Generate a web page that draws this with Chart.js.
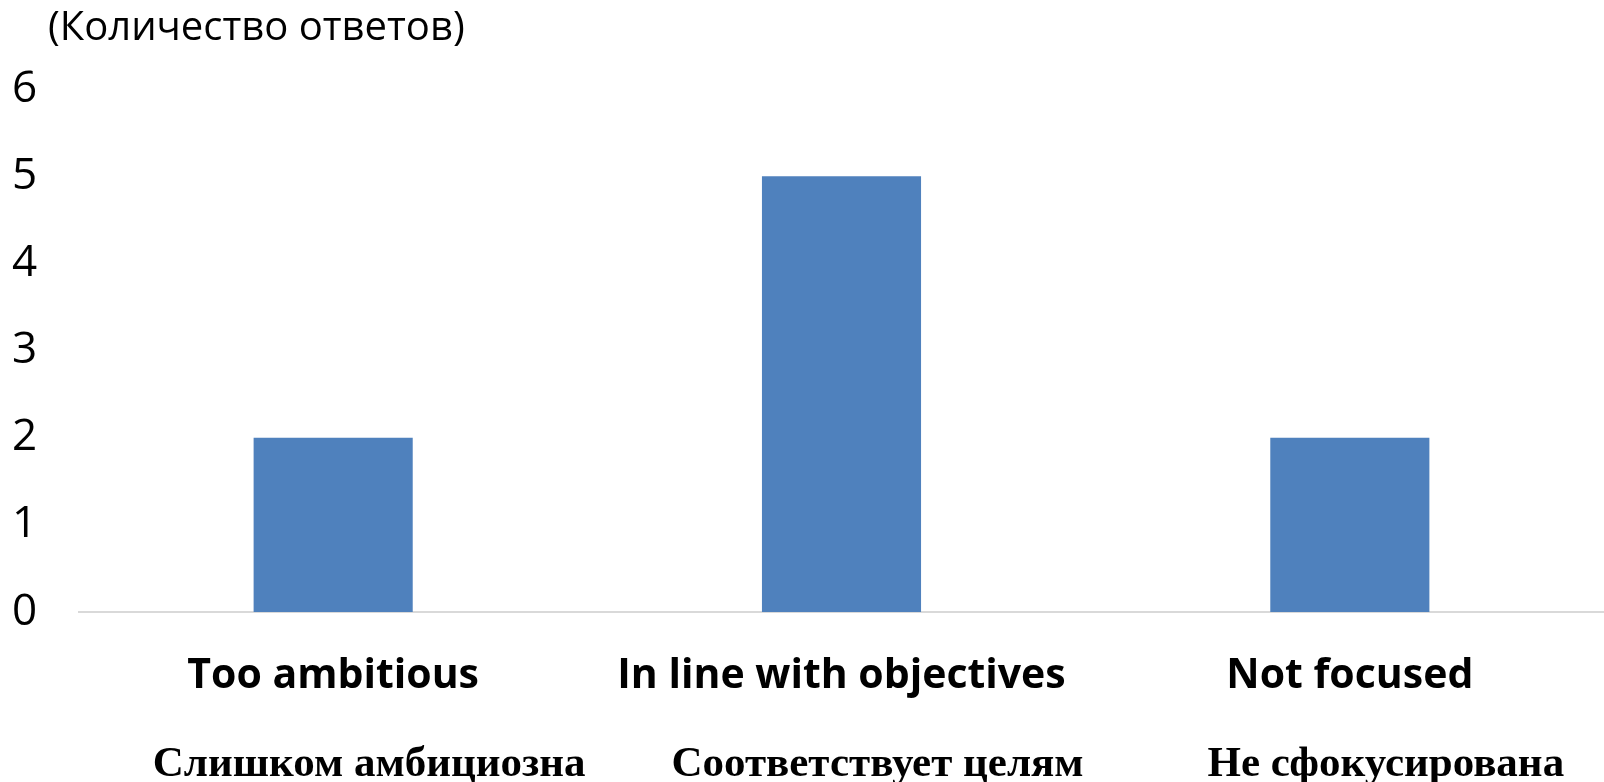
<!DOCTYPE html>
<html>
<head>
<meta charset="utf-8">
<script src="https://cdn.jsdelivr.net/npm/chart.js@4/dist/chart.umd.min.js"></script>
<style>
    html, body { margin: 0; padding: 0; background: #fff; }
    #wrap { width: 1604px; height: 782px; position: relative; }
</style>
</head>
<body>
<div id="wrap"><canvas id="answersChart"></canvas></div>
<script>
// chart data
const categories = ['Too ambitious', 'In line with objectives', 'Not focused'];
const categoriesRu = ['Слишком амбициозна', 'Соответствует целям', 'Не сфокусирована'];
const answers = [2, 5, 2];
const yTicks = [0, 1, 2, 3, 4, 5, 6];
const unitLabel = '(Количество ответов)';

// title sits left of the plot, over the y labels
const unitTitle = {
    id: 'unitTitle',
    afterDraw(chart) {
        let ctx = chart.ctx;
        ctx.save();
        ctx.font = '40px "Open Sans"';
        ctx.fillStyle = '#000';
        ctx.textBaseline = 'middle';
        ctx.textAlign = 'left';
        ctx.fillText(unitLabel, 48, 29);
        ctx.restore();
    }
};

let ctx = document.getElementById('answersChart'),
    myChart = new Chart(ctx, {
        type: 'bar',
        data: {
            labels: categories,
            datasets: [{
                data: answers,
                backgroundColor: '#4F81BD',
                borderWidth: 0,
                categoryPercentage: 1,
                barPercentage: 0.313
            }]
        },
        options: {
            responsive: true,
            maintainAspectRatio: false,
            animation: false,
            layout: { padding: { left: 12, top: 89, right: 0, bottom: 0 } },
            plugins: {
                legend: { display: false },
                tooltip: { enabled: false }
            },
            scales: {
                y: {
                    min: yTicks[0],
                    max: yTicks[yTicks.length - 1],
                    afterBuildTicks: function (axis) {
                        axis.ticks = yTicks.map(function (v) { return { value: v }; });
                    },
                    afterFit: function (axis) { axis.width = 67; },
                    grid: { display: false },
                    border: { display: false },
                    ticks: {
                        crossAlign: 'far',
                        color: '#000',
                        font: { family: '"Open Sans"', size: 44 }
                    }
                },
                x: {
                    position: 'bottom',
                    afterFit: function (axis) { axis.height = 90; },
                    grid: { display: false },
                    border: { display: true, color: '#d9d9d9', width: 2 },
                    ticks: {
                        padding: 32,
                        maxRotation: 0,
                        color: '#000',
                        font: { family: '"Open Sans"', size: 41, weight: 'bold' }
                    }
                },
                x2: {
                    type: 'category',
                    position: 'bottom',
                    labels: categoriesRu,
                    offset: true,
                    afterFit: function (axis) { axis.height = 80; },
                    grid: { display: false },
                    border: { display: false },
                    ticks: {
                        padding: 29,
                        labelOffset: 36,
                        maxRotation: 0,
                        color: '#000',
                        font: { family: '"Liberation Serif"', size: 43, weight: 'bold' }
                    }
                }
            }
        },
        plugins: [unitTitle]
    });
</script>
</body>
</html>
